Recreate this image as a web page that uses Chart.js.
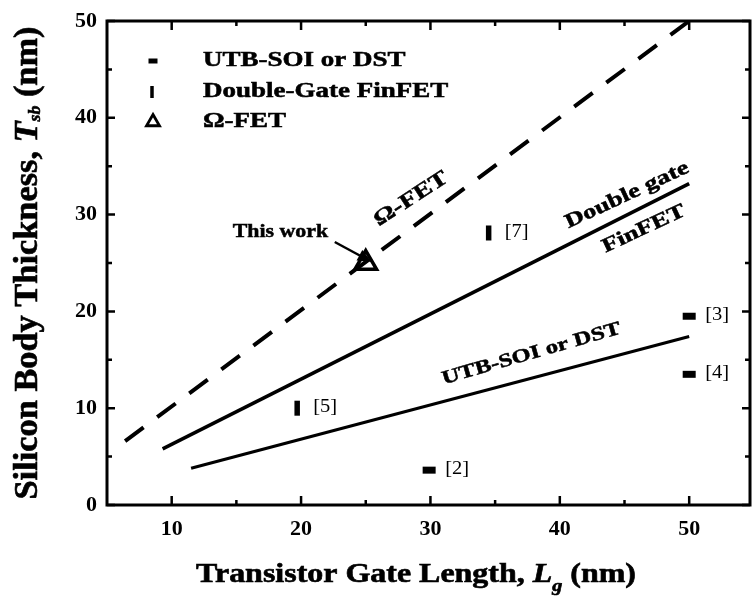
<!DOCTYPE html>
<html>
<head>
<meta charset="utf-8">
<title>Silicon body thickness vs gate length</title>
<script src="https://cdn.jsdelivr.net/npm/chart.js@4/dist/chart.umd.min.js"></script>
<style>
  html, body { margin: 0; padding: 0; background: #fff; }
  #wrap { width: 753px; height: 607px; }
</style>
</head>
<body>
<div id="wrap"><canvas id="c" width="753" height="607"></canvas></div>
<script>
// Design-rule lines, end points as [gate length, body thickness] in nm
const omegaLine = [[6.4, 6.6], [50, 50]];
const doubleGateLine = [[9.3, 5.8], [50, 33.2]];
const utbLine = [[11.5, 3.8], [50, 17.4]];

// Reported devices
const utbPoints = [[29.9, 3.6], [50, 19.5], [50, 13.5]];
const utbRefs = ['[2]', '[3]', '[4]'];
const finfetPoints = [[19.7, 10.0], [34.5, 28.1]];
const finfetRefs = ['[5]', '[7]'];
const omegaPoints = [[25, 25]];

// Axis ticks
const xTicks = [10, 20, 30, 40, 50];
const xMinorTicks = [15, 25, 35, 45];
const yTicks = [0, 10, 20, 30, 40, 50];
const yMinorTicks = [5, 15, 25, 35, 45];

// Legend and line labels
const legendLabels = ['UTB-SOI or DST', 'Double-Gate FinFET', 'Ω-FET'];
const lineLabels = ['Ω-FET', 'Double gate', 'FinFET', 'UTB-SOI or DST'];
const thisWorkLabel = 'This work';

const serif = "'Liberation Serif','Times New Roman',serif";
const toXY = arr => arr.map(([x, y]) => ({ x, y }));

// Text drawn with an optional horizontal stretch and rotation
function drawText(ctx, text, x, y, o) {
  ctx.save();
  ctx.translate(x, y);
  ctx.rotate((o.rotate || 0) * Math.PI / 180);
  ctx.scale(o.stretch || 1, 1);
  ctx.font = o.font;
  ctx.fillStyle = '#000';
  ctx.strokeStyle = '#000';
  ctx.textAlign = o.align || 'center';
  ctx.textBaseline = o.baseline || 'middle';
  ctx.fillText(text, 0, 0);
  if (o.heavy) { ctx.lineWidth = o.heavy; ctx.strokeText(text, 0, 0); }
  ctx.restore();
}

// Multi-part text (italic symbol + subscript), centred, fitted to a given length
function drawRich(ctx, parts, x, y, o) {
  ctx.save();
  ctx.translate(x, y);
  ctx.rotate((o.rotate || 0) * Math.PI / 180);
  const widths = parts.map(p => { ctx.font = p.font; return ctx.measureText(p.t).width; });
  const total = widths.reduce((a, b) => a + b, 0);
  ctx.scale(o.length / total, 1);
  ctx.fillStyle = '#000';
  ctx.strokeStyle = '#000';
  ctx.lineWidth = 0.6;
  ctx.textAlign = 'left';
  ctx.textBaseline = 'alphabetic';
  let cx = -total / 2;
  parts.forEach((p, i) => {
    ctx.font = p.font;
    ctx.fillText(p.t, cx, p.dy || 0);
    ctx.strokeText(p.t, cx, p.dy || 0);
    cx += widths[i];
  });
  ctx.restore();
}

const decorations = {
  id: 'decorations',
  afterDraw(chart) {
    const ctx = chart.ctx;
    const { left, right, top, bottom } = chart.chartArea;
    const xs = chart.scales.x, ys = chart.scales.y;
    const px = v => xs.getPixelForValue(v);
    const py = v => ys.getPixelForValue(v);

    ctx.save();
    ctx.strokeStyle = '#000';
    ctx.lineCap = 'butt';

    // Frame
    ctx.lineWidth = 3;
    ctx.strokeRect(left, top, right - left, bottom - top);

    // Inward ticks on all four sides
    ctx.lineWidth = 2.5;
    ctx.beginPath();
    const xTick = (v, len) => {
      ctx.moveTo(px(v), bottom); ctx.lineTo(px(v), bottom - len);
      ctx.moveTo(px(v), top); ctx.lineTo(px(v), top + len);
    };
    const yTick = (v, len) => {
      ctx.moveTo(left, py(v)); ctx.lineTo(left + len, py(v));
      ctx.moveTo(right, py(v)); ctx.lineTo(right - len, py(v));
    };
    xTicks.forEach(v => xTick(v, 9));
    xMinorTicks.forEach(v => xTick(v, 5));
    yTicks.forEach(v => yTick(v, 8));
    yMinorTicks.forEach(v => yTick(v, 5));
    ctx.stroke();

    // Legend
    const legendX = 153, textX = 203, rows = [61, 92, 122];
    ctx.lineWidth = 5;
    ctx.beginPath(); ctx.moveTo(legendX - 4.5, rows[0]); ctx.lineTo(legendX + 4.5, rows[0]); ctx.stroke();
    ctx.lineWidth = 3.5;
    ctx.beginPath(); ctx.moveTo(legendX - 1, rows[1] - 6); ctx.lineTo(legendX - 1, rows[1] + 6); ctx.stroke();
    ctx.lineWidth = 2.8;
    const r = 7.5;
    ctx.beginPath();
    ctx.moveTo(legendX, rows[2] - r);
    ctx.lineTo(legendX + r * 0.866, rows[2] + r * 0.5);
    ctx.lineTo(legendX - r * 0.866, rows[2] + r * 0.5);
    ctx.closePath(); ctx.stroke();
    legendLabels.forEach((t, i) =>
      drawText(ctx, t, textX, rows[i], { font: 'bold 20px ' + serif, stretch: 1.35, align: 'left', heavy: 0.5 }));

    // Labels along the design-rule lines
    const lbl = { font: 'bold 20px ' + serif, stretch: 1.32, heavy: 0.5 };
    drawText(ctx, lineLabels[0], px(28.5), py(31.6), { ...lbl, font: 'bold 21px ' + serif, stretch: 1.3, rotate: -33 });
    drawText(ctx, lineLabels[1], px(45.2), py(32.0), { ...lbl, rotate: -25 });
    drawText(ctx, lineLabels[2], px(46.5), py(28.5), { ...lbl, rotate: -25 });
    drawText(ctx, lineLabels[3], px(37.8), py(15.6), { ...lbl, font: 'bold 19px ' + serif, stretch: 1.3, rotate: -16 });

    // Reference tags beside the reported devices
    const tag = (pts, refs) => pts.forEach(([x, y], i) =>
      drawText(ctx, refs[i], px(x) + 16, py(y) - 1, { font: '19px ' + serif, stretch: 1.08, align: 'left' }));
    tag(utbPoints, utbRefs);
    tag(finfetPoints, finfetRefs);

    // "This work" with arrow to the Ω-FET device
    drawText(ctx, thisWorkLabel, px(14.72), py(28.2), { font: 'bold 19px ' + serif, stretch: 1.15, align: 'left', heavy: 0.5 });
    const tx = px(omegaPoints[0][0]), ty = py(omegaPoints[0][1]);
    const sx = tx - 31, sy = ty - 21, ex = tx + 6, ey = ty - 1;
    const ang = Math.atan2(ey - sy, ex - sx);
    ctx.lineWidth = 2.5;
    ctx.beginPath(); ctx.moveTo(sx, sy); ctx.lineTo(ex - 10 * Math.cos(ang), ey - 10 * Math.sin(ang)); ctx.stroke();
    ctx.fillStyle = '#000';
    ctx.beginPath();
    ctx.moveTo(ex, ey);
    ctx.lineTo(ex - 14 * Math.cos(ang) + 6 * Math.sin(ang), ey - 14 * Math.sin(ang) - 6 * Math.cos(ang));
    ctx.lineTo(ex - 14 * Math.cos(ang) - 6 * Math.sin(ang), ey - 14 * Math.sin(ang) + 6 * Math.cos(ang));
    ctx.closePath(); ctx.fill();

    // Axis titles
    drawRich(ctx, [
      { t: 'Transistor Gate Length, ', font: 'bold 27px ' + serif },
      { t: 'L', font: 'italic bold 27px ' + serif },
      { t: 'g', font: 'italic bold 17px ' + serif, dy: 9 },
      { t: ' (nm)', font: 'bold 27px ' + serif }
    ], 416, 582, { length: 440 });
    drawRich(ctx, [
      { t: 'Silicon Body Thickness, ', font: 'bold 33px ' + serif },
      { t: 'T', font: 'italic bold 33px ' + serif },
      { t: 'sb', font: 'italic bold 17px ' + serif, dy: 3 },
      { t: ' (nm)', font: 'bold 33px ' + serif }
    ], 37, 263, { length: 473, rotate: -90 });

    ctx.restore();
  }
};

const tickFont = { family: serif, size: 22, weight: 'bold' };

new Chart(document.getElementById('c'), {
  type: 'scatter',
  data: {
    datasets: [
      { label: 'Ω-FET device', data: toXY(omegaPoints), pointStyle: 'triangle', pointRadius: 12.5,
        pointBorderWidth: 3.5, borderColor: '#000', backgroundColor: 'rgba(255,255,255,0)', showLine: false },
      { label: 'Double-Gate FinFET', data: toXY(finfetPoints), pointStyle: 'line', rotation: 90, pointRadius: 7.5,
        pointBorderWidth: 5.5, borderColor: '#000', showLine: false },
      { label: 'UTB-SOI or DST', data: toXY(utbPoints), pointStyle: 'line', pointRadius: 6.5,
        pointBorderWidth: 7, borderColor: '#000', showLine: false },
      { label: 'Ω-FET rule', data: toXY(omegaLine), showLine: true, borderColor: '#000', borderWidth: 4,
        borderDash: [23, 17], pointRadius: 0 },
      { label: 'Double gate rule', data: toXY(doubleGateLine), showLine: true, borderColor: '#000', borderWidth: 3.5,
        pointRadius: 0 },
      { label: 'UTB rule', data: toXY(utbLine), showLine: true, borderColor: '#000', borderWidth: 3,
        pointRadius: 0 }
    ]
  },
  options: {
    responsive: false,
    animation: false,
    devicePixelRatio: 1,
    layout: { autoPadding: false, padding: { top: 21, right: 3, left: 0, bottom: 0 } },
    plugins: { legend: { display: false }, tooltip: { enabled: false } },
    scales: {
      x: {
        type: 'linear', min: 5, max: 54.7,
        afterBuildTicks: s => { s.ticks = xTicks.map(v => ({ value: v })); },
        afterFit: s => { s.height = 102; s.paddingLeft = 0; s.paddingRight = 0; },
        grid: { display: false }, border: { display: false },
        ticks: { font: tickFont, color: '#000', padding: 3, maxRotation: 0 }
      },
      y: {
        type: 'linear', min: 0, max: 50,
        afterBuildTicks: s => { s.ticks = yTicks.map(v => ({ value: v })); },
        afterFit: s => { s.width = 107; s.paddingTop = 0; s.paddingBottom = 0; },
        grid: { display: false }, border: { display: false },
        ticks: { font: tickFont, color: '#000', padding: 2 }
      }
    }
  },
  plugins: [decorations]
});
</script>
</body>
</html>
